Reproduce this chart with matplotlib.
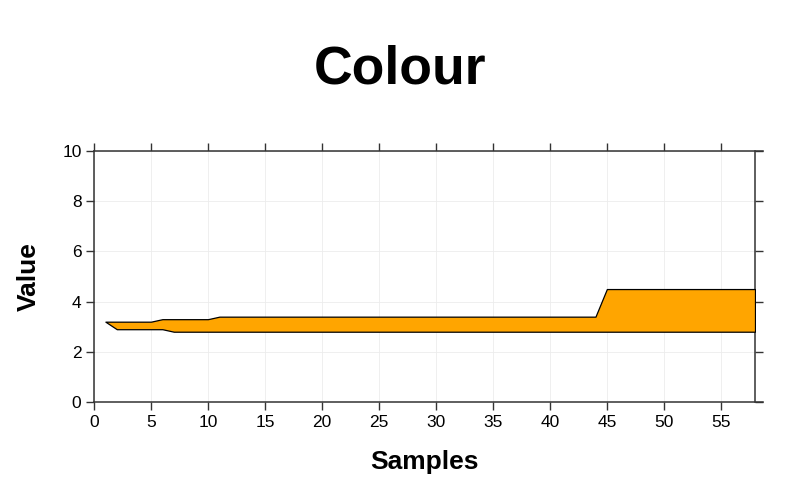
import matplotlib
matplotlib.use("Agg")
import matplotlib.pyplot as plt
import numpy as np

plt.rcParams['font.family'] = ['Liberation Sans', 'DejaVu Sans']

# samples 1..58
samples = list(range(1, 59))
upper = [3.2]*5 + [3.3]*5 + [3.4]*34 + [4.5]*14
lower = [3.2] + [2.9]*5 + [2.8]*52

fig = plt.figure(figsize=(7.99, 4.94), dpi=100)
ax = fig.add_axes([94/799, 1 - 402/494, (755 - 94)/799, (402 - 151)/494])

ax.fill_between(samples, lower, upper, facecolor="#FFA500", edgecolor="black",
                linewidth=0.9, zorder=3)

ax.set_xlim(0, 58)
ax.set_ylim(0, 10)
ax.set_xticks(np.arange(0, 58, 5))
ax.set_yticks(np.arange(0, 11, 2))
ax.grid(True, color="#ececec", linewidth=0.6, zorder=0)
ax.set_axisbelow(True)

ax.tick_params(direction="out", length=6, width=1, color="#333333",
               labelsize=12.5, top=True, right=True, labeltop=False, labelright=False, pad=3)
for s in ax.spines.values():
    s.set_color("#333333")
    s.set_linewidth(1.1)
ax.spines["top"].set_bounds(0, 58.7)
ax.spines["bottom"].set_bounds(0, 58.7)

ax.set_xlabel("Samples", fontsize=19, fontweight="bold", labelpad=15)
ax.set_ylabel("Value", fontsize=19, fontweight="bold", labelpad=15)
fig.text(0.5, 1 - 69/494, "Colour", fontsize=38.5, fontweight="bold",
         ha="center", va="center")

fig.savefig("out.png", dpi=100)
